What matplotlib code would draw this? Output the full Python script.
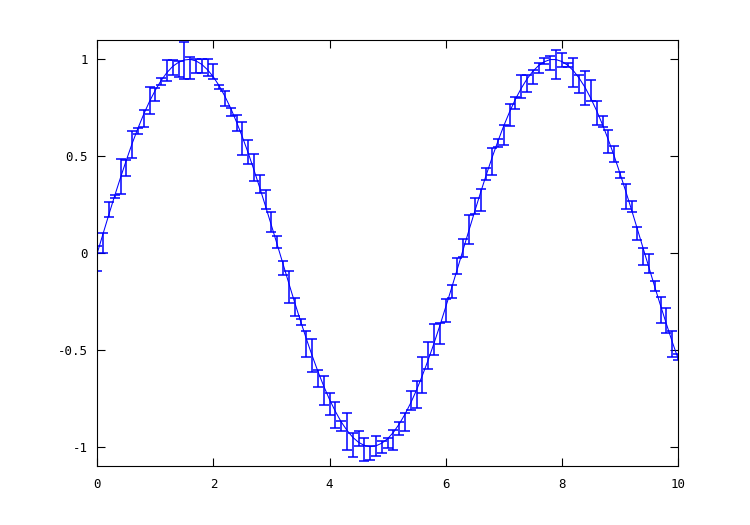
#!/usr/bin/env python3
"""Sine curve with asymmetric error bars (octave style errorbar demo)."""

import matplotlib
matplotlib.use('Agg')  # no display
import matplotlib.pyplot as plt

# Sample positions
x_vals = [
    0.0, 0.1, 0.2, 0.3, 0.4, 0.5, 0.6, 0.7, 0.8, 0.9,
    1.0, 1.1, 1.2, 1.3, 1.4, 1.5, 1.6, 1.7, 1.8, 1.9,
    2.0, 2.1, 2.2, 2.3, 2.4, 2.5, 2.6, 2.7, 2.8, 2.9,
    3.0, 3.1, 3.2, 3.3, 3.4, 3.5, 3.6, 3.7, 3.8, 3.9,
    4.0, 4.1, 4.2, 4.3, 4.4, 4.5, 4.6, 4.7, 4.8, 4.9,
    5.0, 5.1, 5.2, 5.3, 5.4, 5.5, 5.6, 5.7, 5.8, 5.9,
    6.0, 6.1, 6.2, 6.3, 6.4, 6.5, 6.6, 6.7, 6.8, 6.9,
    7.0, 7.1, 7.2, 7.3, 7.4, 7.5, 7.6, 7.7, 7.8, 7.9,
    8.0, 8.1, 8.2, 8.3, 8.4, 8.5, 8.6, 8.7, 8.8, 8.9,
    9.0, 9.1, 9.2, 9.3, 9.4, 9.5, 9.6, 9.7, 9.8, 9.9,
    10.0,
]

# Measured values
y_vals = [
    0.000, 0.100, 0.199, 0.296, 0.389, 0.479, 0.565, 0.644, 0.717, 0.783,
    0.841, 0.891, 0.932, 0.964, 0.985, 0.997, 1.000, 0.992, 0.974, 0.946,
    0.909, 0.863, 0.808, 0.746, 0.675, 0.598, 0.516, 0.427, 0.335, 0.239,
    0.141, 0.042, -0.058, -0.158, -0.256, -0.351, -0.443, -0.530, -0.612, -0.688,
    -0.757, -0.818, -0.872, -0.916, -0.952, -0.978, -0.994, -1.000, -0.996, -0.982,
    -0.959, -0.926, -0.883, -0.832, -0.773, -0.706, -0.631, -0.551, -0.465, -0.374,
    -0.279, -0.182, -0.083, 0.017, 0.117, 0.215, 0.312, 0.405, 0.494, 0.578,
    0.657, 0.729, 0.794, 0.850, 0.899, 0.938, 0.968, 0.988, 0.999, 0.999,
    0.989, 0.970, 0.941, 0.902, 0.855, 0.798, 0.734, 0.663, 0.585, 0.502,
    0.412, 0.319, 0.223, 0.124, 0.024, -0.075, -0.175, -0.272, -0.366, -0.458,
    -0.544,
]

# Lower / upper error
lower_err = [
    0.095, 0.100, 0.012, 0.014, 0.086, 0.079, 0.074, 0.032, 0.064, 0.065,
    0.058, 0.022, 0.045, 0.043, 0.076, 0.098, 0.100, 0.060, 0.045, 0.030,
    0.012, 0.014, 0.050, 0.036, 0.043, 0.093, 0.058, 0.057, 0.027, 0.012,
    0.031, 0.017, 0.058, 0.100, 0.070, 0.022, 0.094, 0.086, 0.079, 0.098,
    0.081, 0.086, 0.045, 0.100, 0.100, 0.021, 0.079, 0.069, 0.050, 0.053,
    0.050, 0.094, 0.057, 0.086, 0.036, 0.094, 0.091, 0.048, 0.062, 0.096,
    0.077, 0.052, 0.026, 0.036, 0.072, 0.015, 0.094, 0.030, 0.093, 0.030,
    0.100, 0.072, 0.052, 0.048, 0.070, 0.064, 0.036, 0.010, 0.055, 0.098,
    0.026, 0.010, 0.086, 0.074, 0.091, 0.014, 0.074, 0.012, 0.070, 0.031,
    0.024, 0.094, 0.010, 0.055, 0.086, 0.030, 0.020, 0.091, 0.045, 0.077,
    0.007,
]
upper_err = [
    0.034, 0.005, 0.062, 0.005, 0.095, 0.002, 0.067, 0.003, 0.024, 0.074,
    0.012, 0.012, 0.067, 0.034, 0.005, 0.095, 0.010, 0.009, 0.030, 0.057,
    0.069, 0.007, 0.031, 0.005, 0.038, 0.076, 0.069, 0.086, 0.070, 0.084,
    0.069, 0.045, 0.019, 0.065, 0.026, 0.009, 0.040, 0.084, 0.009, 0.052,
    0.033, 0.048, 0.005, 0.089, 0.022, 0.057, 0.036, 0.002, 0.050, 0.012,
    0.005, 0.014, 0.010, 0.005, 0.058, 0.043, 0.093, 0.089, 0.096, 0.012,
    0.041, 0.017, 0.055, 0.057, 0.077, 0.067, 0.020, 0.036, 0.050, 0.012,
    0.002, 0.040, 0.012, 0.070, 0.022, 0.005, 0.014, 0.019, 0.017, 0.048,
    0.045, 0.010, 0.064, 0.019, 0.086, 0.093, 0.050, 0.043, 0.048, 0.052,
    0.007, 0.039, 0.047, 0.012, 0.002, 0.072, 0.031, 0.046, 0.084, 0.057,
    0.022,
]

x_ticks = [0, 2, 4, 6, 8, 10]
y_ticks = [-1, -0.5, 0, 0.5, 1]
y_tick_labels = ['-1', '-0.5', '0', '0.5', '1']


def main():
    plt.rcParams.update({
        'font.family': 'DejaVu Sans Mono',
        'font.size': 9,
        'axes.unicode_minus': False,
    })

    fig = plt.figure(figsize=(7.5, 5.25), dpi=100)
    ax = fig.add_axes([0.1297, 0.1124, 0.7743, 0.8114])

    ax.errorbar(x_vals, y_vals, yerr=[lower_err, upper_err],
                color='#0000ff', linewidth=0.75, elinewidth=1.1,
                capsize=3.5, capthick=1.1)

    ax.set_xlim(0, 10)
    ax.set_ylim(-1.1, 1.1)
    ax.set_xticks(x_ticks)
    ax.set_xticklabels([str(t) for t in x_ticks])
    ax.set_yticks(y_ticks)
    ax.set_yticklabels(y_tick_labels)

    ax.tick_params(direction='in', length=5.5, width=0.8,
                   top=True, right=True, colors='black')
    ax.tick_params(axis='x', pad=9)
    ax.tick_params(axis='y', pad=6.5)
    for s in ax.spines.values():
        s.set_linewidth(0.8)

    fig.savefig('out.png', dpi=100)
    plt.close(fig)


if __name__ == '__main__':
    main()
